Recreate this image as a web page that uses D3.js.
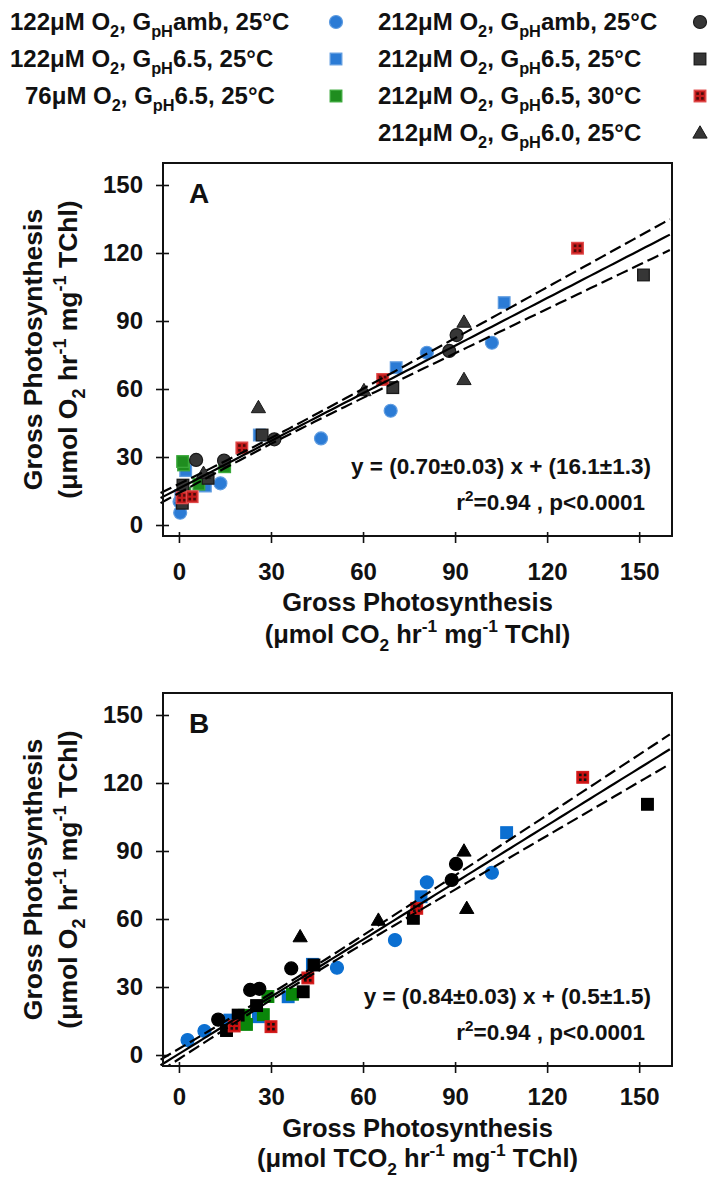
<!doctype html>
<html lang="en">
<head>
<meta charset="utf-8">
<title>Gross photosynthesis O2 vs CO2</title>
<script src="https://cdn.jsdelivr.net/npm/d3@7"></script>
<style>
  body { margin: 0; background: #fff; }
  svg text { font-family: "Liberation Sans", Arial, sans-serif; font-weight: bold; fill: #111; }
</style>
</head>
<body>
<svg id="chart" width="711" height="1191"></svg>
<script>
// ---- data ----------------------------------------------------------
// legend entries: [O2 conc, pH label, temperature]
var seriesConc = ["122", "122", "76", "212", "212", "212", "212"];
var seriesPH = ["amb", "6.5", "6.5", "amb", "6.5", "6.5", "6.0"];
var seriesTemp = ["25", "25", "25", "25", "25", "30", "25"];
var seriesShape = ["circle", "square", "square", "circle", "square", "dotted", "triangle"];
var seriesColor = ["blue", "blue", "green", "black", "black", "red", "black"];

var xTicks = [0, 30, 60, 90, 120, 150];
var yTicks = [0, 30, 60, 90, 120, 150];

// panel A : x = gross photosynthesis as CO2
var aBlueCircle = [[0.4, 5.4], [0.2, 10.3], [13.5, 18.4], [46.3, 38.2], [69, 50.4], [80.8, 76], [102, 80.4]];
var aBlueSquare = [[0.6, 13], [2.2, 24], [8.6, 17.2], [26.2, 39.7], [70.8, 69.4], [106, 98.1]];
var aGreenSquare = [[1.9, 14], [6.5, 18], [14.9, 25.7], [1.5, 26.5], [1.2, 28]];
var aBlackCircle = [[5.6, 28.7], [14.7, 28.4], [31.1, 37.8], [88.1, 76.8], [90.5, 83.8]];
var aBlackSquare = [[1.1, 9.6], [1.3, 17.6], [9.5, 20.6], [27.1, 39.7], [69.7, 60.6], [151.4, 110.3]];
var aRedSquare = [[1.0, 12], [4.3, 12.5], [20.5, 34], [66.4, 64.2], [129.9, 122.1]];
var aTriangle = [[8, 22.8], [25.9, 51.8], [60.3, 59.3], [92.9, 64.2], [92.9, 89.5]];

// panel B : x = gross photosynthesis as TCO2
var bBlueCircle = [[2.8, 6.6], [8.3, 10.6], [51.5, 38.5], [70.4, 50.7], [80.8, 76.2], [102, 80.4]];
var bBlueSquare = [[16.6, 15.4], [25.9, 16.9], [35.6, 25.7], [43.5, 40], [78.9, 69.8], [106.8, 98.1]];
var bGreenSquare = [[21.3, 17.5], [22, 13.5], [27.5, 17.8], [29, 25.8], [37, 26.8]];
var bBlackCircle = [[12.8, 15.6], [23.2, 28.7], [26.2, 29.2], [36.6, 38.2], [88.9, 77.2], [90.3, 84.3]];
var bBlackSquare = [[15.5, 10.8], [19.3, 17.6], [25.3, 21.8], [40.5, 27.9], [44, 39.7], [76.4, 60.3], [152.7, 110.6]];
var bRedSquare = [[18, 12.8], [30, 12.5], [42, 34], [77.5, 64.7], [131.6, 122.5]];
var bTriangle = [[39.5, 52.2], [65, 59.5], [92.9, 90], [93.8, 64.7]];

// regression fits: slope, intercept, and confidence band (centre, width at centre, growth)
var fitSlope = [0.70, 0.84];
var fitIntercept = [16.1, 0.5];
var bandCentre = [30, 35];
var bandMin = [1.3, 1.4];
var bandGrowth = [0.0514, 0.051];
var fitEquation = ["y = (0.70\u00b10.03) x + (16.1\u00b11.3)", "y = (0.84\u00b10.03) x + (0.5\u00b11.5)"];
var fitStats = "=0.94 , p<0.0001";
var panelLetters = ["A", "B"];
var xTitleSpecies = ["CO", "TCO"];

// ---- layout --------------------------------------------------------
var svg = d3.select("#chart");
var left = 163, right = 672, plotH = 373;
var panelTop = [163, 693];
var xLabelPad = [20, 15];
var xTitleOff = [[75, 107], [71, 101]];

var styles = {
  A: {
    blue: { fill: "#2b7bd5", stroke: "#5d9be0" },
    green: { fill: "#1f8d1f", stroke: "#3aa83a" },
    black: { fill: "#363636", stroke: "#1a1a1a" },
    red: { fill: "#c41c1c", stroke: "#e04a4a", dot: "#4a0a0a" }
  },
  B: {
    blue: { fill: "#0b6fd1", stroke: "#0b6fd1" },
    green: { fill: "#0a860a", stroke: "#0a860a" },
    black: { fill: "#000", stroke: "#000" },
    red: { fill: "#cc1010", stroke: "#d42020", dot: "#111" }
  }
};

function rich(text, parts, size) {
  var shift = 0;
  parts.forEach(function (p) {
    var target = p.s === "sub" ? 0.3 * size : p.s === "sup" ? -0.42 * size : 0;
    var ts = text.append("tspan").text(p.t).attr("dy", target - shift);
    if (p.s) ts.attr("font-size", size * 0.68);
    shift = target;
  });
}

function drawMarker(g, shape, st, cx, cy) {
  var m = g.append("g").attr("transform", "translate(" + cx + "," + cy + ")");
  if (shape === "circle") {
    m.append("circle").attr("r", 6.5).attr("fill", st.fill).attr("stroke", st.stroke).attr("stroke-width", 1.2);
  } else if (shape === "triangle") {
    m.append("path").attr("d", d3.symbol(d3.symbolTriangle, 88)()).attr("transform", "translate(0,1)")
      .attr("fill", st.fill).attr("stroke", st.stroke).attr("stroke-width", 1);
  } else {
    m.append("rect").attr("x", -5.8).attr("y", -5.8).attr("width", 11.6).attr("height", 11.6)
      .attr("fill", st.fill).attr("stroke", st.stroke).attr("stroke-width", 1.3);
    if (shape === "dotted") {
      [[-1, -1], [1, -1], [-1, 1], [1, 1]].forEach(function (o) {
        m.append("rect").attr("x", o[0] * 2.4 - 1.3).attr("y", o[1] * 2.4 - 1.3)
          .attr("width", 2.6).attr("height", 2.6).attr("fill", st.dot);
      });
    }
  }
}

function legendParts(i) {
  return [{ t: seriesConc[i] + "\u03bcM O" }, { t: "2", s: "sub" }, { t: ", G" }, { t: "pH", s: "sub" },
    { t: seriesPH[i] + ", " + seriesTemp[i] + "\u00b0C" }];
}

// ---- legend --------------------------------------------------------
var legRows = [[0, 10, 22], [1, 10, 59], [2, 25, 96], [3, 378, 22], [4, 378, 59], [5, 378, 96], [6, 378, 133]];
var legend = svg.append("g");
legRows.forEach(function (r) {
  var i = r[0];
  var t = legend.append("text").attr("x", r[1]).attr("y", r[2] + 8).attr("font-size", 24);
  rich(t, legendParts(i), 24);
  drawMarker(legend, seriesShape[i], styles.A[seriesColor[i]], i < 3 ? 336 : 700, r[2]);
});

// ---- panels --------------------------------------------------------
var panelData = [
  [aBlueCircle, aBlueSquare, aGreenSquare, aBlackCircle, aBlackSquare, aRedSquare, aTriangle],
  [bBlueCircle, bBlueSquare, bGreenSquare, bBlackCircle, bBlackSquare, bRedSquare, bTriangle]
];

panelData.forEach(function (series, p) {
  var top = panelTop[p], bottom = top + plotH;
  var st = p === 0 ? styles.A : styles.B;
  var x = d3.scaleLinear().domain([-5.2, 160.7]).range([left, right]);
  var y = d3.scaleLinear().domain([-4.85, 159.7]).range([bottom, top]);
  var g = svg.append("g");

  // y axis with crossing ticks
  var ya = g.append("g").attr("transform", "translate(" + left + ",0)")
    .call(d3.axisLeft(y).tickValues(yTicks).tickSize(7).tickPadding(13));
  ya.select(".domain").remove();
  ya.selectAll(".tick line").attr("x1", 6).attr("stroke", "#111").attr("stroke-width", 1.6);
  ya.selectAll(".tick text").attr("font-size", 24).attr("fill", "#111").attr("font-family", null);

  var xa = g.append("g").attr("transform", "translate(0," + bottom + ")")
    .call(d3.axisBottom(x).tickValues(xTicks).tickSize(7).tickPadding(xLabelPad[p]));
  xa.select(".domain").remove();
  xa.selectAll(".tick line").attr("y1", -4).attr("stroke", "#111").attr("stroke-width", 1.6);
  xa.selectAll(".tick text").attr("font-size", 24).attr("fill", "#111").attr("font-family", null);

  // points
  series.forEach(function (pts, i) {
    pts.forEach(function (d) {
      drawMarker(g, seriesShape[i], st[seriesColor[i]], x(d[0]), y(d[1]));
    });
  });

  // regression line and confidence band
  var clipId = "clip" + p;
  svg.append("clipPath").attr("id", clipId).append("rect")
    .attr("x", left - 3).attr("y", top).attr("width", right - left + 3).attr("height", plotH);
  var xs = d3.range(-6, 162, 2);
  var fit = function (v) { return fitSlope[p] * v + fitIntercept[p]; };
  var half = function (v) {
    var k = bandGrowth[p] * (v - bandCentre[p]);
    return Math.sqrt(bandMin[p] * bandMin[p] + k * k);
  };
  var line = d3.line().x(function (d) { return x(d[0]); }).y(function (d) { return y(d[1]); });
  var lg = g.append("g").attr("clip-path", "url(#" + clipId + ")").attr("fill", "none").attr("stroke", "#000");
  lg.append("path").attr("d", line(xs.map(function (v) { return [v, fit(v)]; }))).attr("stroke-width", 2.2);
  [1, -1].forEach(function (s) {
    lg.append("path").attr("d", line(xs.map(function (v) { return [v, fit(v) + s * half(v)]; })))
      .attr("stroke-width", 2.2).attr("stroke-dasharray", "12,5");
  });

  // frame
  g.append("rect").attr("x", left).attr("y", top).attr("width", right - left).attr("height", plotH)
    .attr("fill", "none").attr("stroke", "#111").attr("stroke-width", 2);

  // panel letter and fit text
  g.append("text").attr("x", 189).attr("y", top + 40).attr("font-size", 28).text(panelLetters[p]);
  g.append("text").attr("x", 651).attr("y", top + 311).attr("font-size", 22.5).attr("text-anchor", "end")
    .text(fitEquation[p]);
  var rt = g.append("text").attr("x", 645).attr("y", top + 347).attr("font-size", 22.5).attr("text-anchor", "end");
  rich(rt, [{ t: "r" }, { t: "2", s: "sup" }, { t: fitStats }], 22.5);

  // axis titles
  var cx = (left + right) / 2;
  g.append("text").attr("x", cx).attr("y", bottom + xTitleOff[p][0]).attr("text-anchor", "middle")
    .attr("font-size", 25.5).text("Gross Photosynthesis");
  var xt = g.append("text").attr("x", cx).attr("y", bottom + xTitleOff[p][1]).attr("text-anchor", "middle")
    .attr("font-size", 25.5);
  rich(xt, [{ t: "(\u03bcmol " + xTitleSpecies[p] }, { t: "2", s: "sub" }, { t: " hr" }, { t: "-1", s: "sup" },
    { t: " mg" }, { t: "-1", s: "sup" }, { t: " TChl)" }], 25.5);

  var cy = (top + bottom) / 2;
  g.append("text").attr("transform", "translate(42," + cy + ") rotate(-90)").attr("text-anchor", "middle")
    .attr("font-size", 26.5).text("Gross Photosynthesis");
  var yt = g.append("text").attr("transform", "translate(77," + cy + ") rotate(-90)").attr("text-anchor", "middle")
    .attr("font-size", 26.5);
  rich(yt, [{ t: "(\u03bcmol O" }, { t: "2", s: "sub" }, { t: " hr" }, { t: "-1", s: "sup" },
    { t: " mg" }, { t: "-1", s: "sup" }, { t: " TChl)" }], 26.5);
});
</script>
</body>
</html>
